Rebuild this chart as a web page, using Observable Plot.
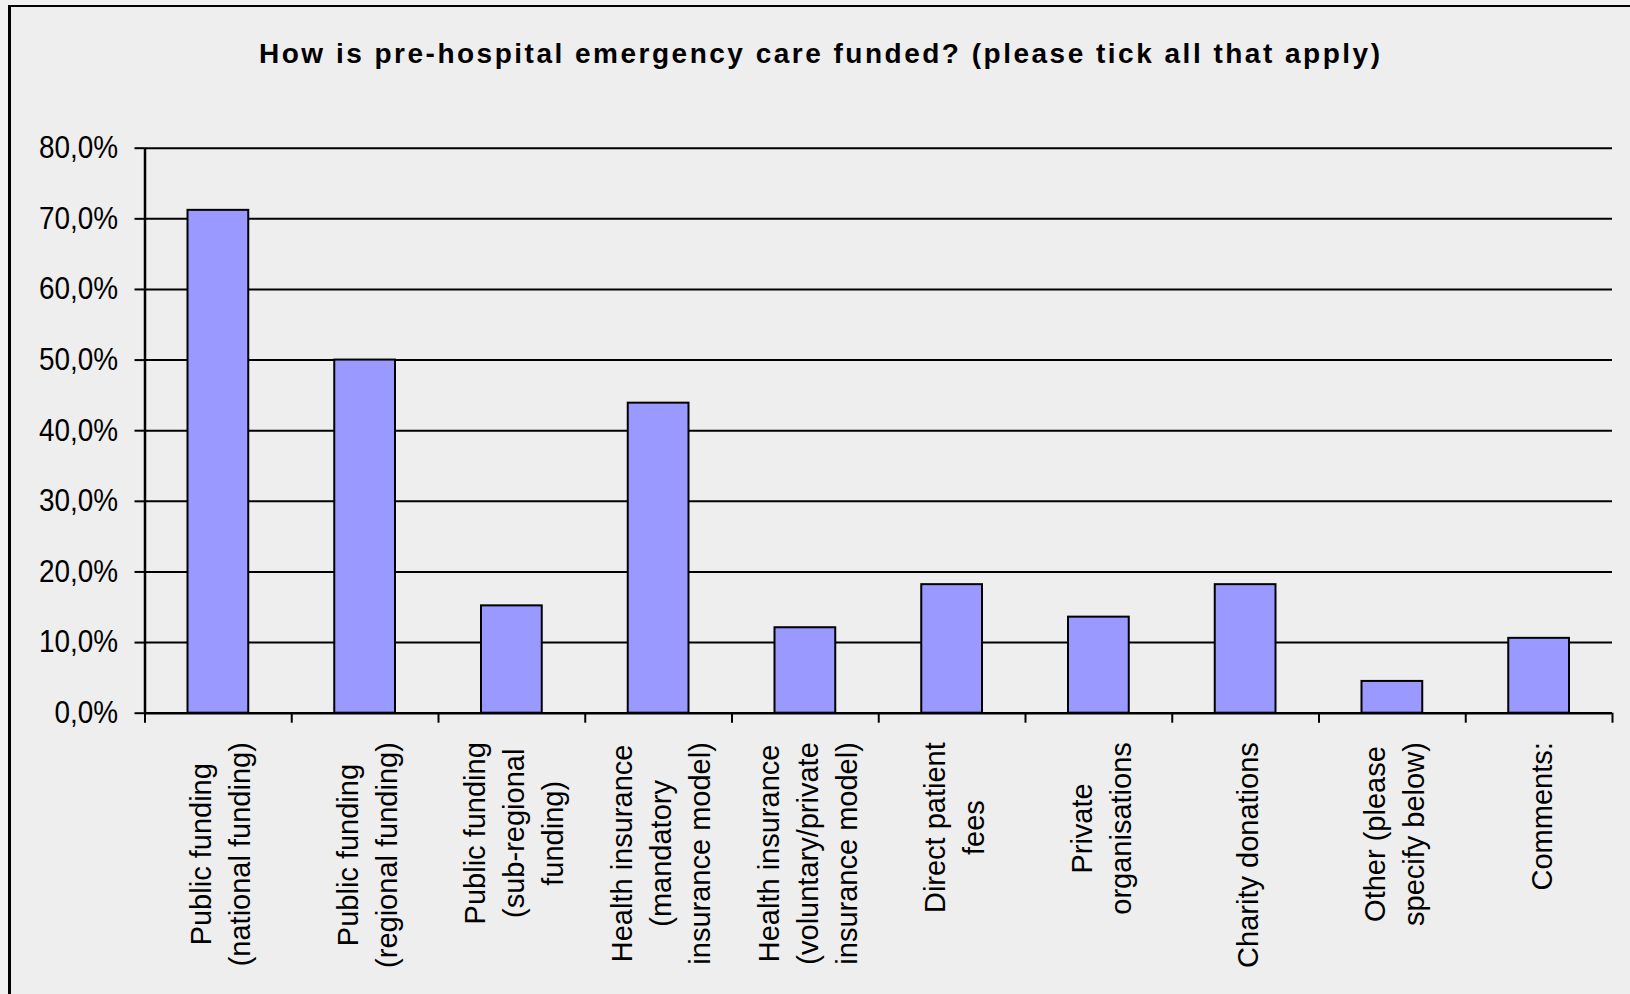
<!DOCTYPE html>
<html><head><meta charset="utf-8">
<script src="https://cdn.jsdelivr.net/npm/d3@7"></script>
<script src="https://cdn.jsdelivr.net/npm/@observablehq/plot@0.6"></script>
<style>
html,body{margin:0;padding:0;background:#f1f1f1;width:1630px;height:994px;overflow:hidden;}
#frame{position:absolute;left:8px;top:5px;width:1700px;height:1100px;border-left:3px solid #000;border-top:2px solid #000;box-sizing:border-box;background:#eeeeee;}
#title{position:absolute;left:259px;top:40px;font:bold 28px "Liberation Sans",Arial,sans-serif;line-height:28px;white-space:nowrap;color:#000;}
#chart{position:absolute;left:0;top:90px;}
</style></head><body>
<div id="frame"></div>
<div id="title"></div>
<div id="chart"></div>
<script>
const titleText = "How is pre-hospital emergency care funded? (please tick all that apply)";
const categories = [
  "Public funding\n(national funding)",
  "Public funding\n(regional funding)",
  "Public funding\n(sub-regional\nfunding)",
  "Health insurance\n(mandatory\ninsurance model)",
  "Health insurance\n(voluntary/private\ninsurance model)",
  "Direct patient\nfees",
  "Private\norganisations",
  "Charity donations",
  "Other (please\nspecify below)",
  "Comments:"
];
const values = [71.2, 50.0, 15.2, 43.9, 12.1, 18.2, 13.6, 18.2, 4.5, 10.6];
const yTicks = [0, 10, 20, 30, 40, 50, 60, 70, 80];

// Title with letter spacing fitted to the reference width
const titleEl = document.getElementById("title");
titleEl.textContent = titleText;
const ctx = document.createElement("canvas").getContext("2d");
ctx.font = 'bold 28px "Liberation Sans"';
const natural = ctx.measureText(titleText).width;
const targetW = 1121;
titleEl.style.letterSpacing = ((targetW - natural) / (titleText.length - 1)) + "px";

const data = categories.map((c, i) => ({i, label: c, value: values[i]}));

const chart = Plot.plot({
  width: 1630,
  height: 904,
  marginLeft: 144.5,
  marginRight: 18,
  marginTop: 57.7,
  marginBottom: 281.3,
  style: {background: "transparent", fontFamily: '"Liberation Sans", Arial, sans-serif', color: "#000", overflow: "visible"},
  x: {type: "linear", domain: [0, categories.length], axis: null, label: null},
  y: {domain: [0, 80], axis: null, label: null},
  marks: [
    Plot.gridY({ticks: yTicks.slice(1), stroke: "#000", strokeOpacity: 1, strokeWidth: 2}),
    Plot.rectY(data, {x1: "i", x2: d => d.i + 1, y: "value", insetLeft: 43, insetRight: 43, fill: "#9999ff", stroke: "#000", strokeWidth: 2}),
    Plot.ruleX([0], {stroke: "#000", strokeWidth: 2.5}),
    Plot.ruleY([0], {stroke: "#000", strokeWidth: 2.5}),
    Plot.axisY({ticks: yTicks, label: null, tickSize: 10, tickPadding: 17, tickFormat: d => d.toFixed(1).replace(".", ",") + "%", fontSize: 31, stroke: "#000", strokeWidth: 2, fill: "#000"}),
    Plot.axisX({ticks: d3.range(0, categories.length + 1), label: null, tickSize: 10, tickFormat: () => "", stroke: "#000", strokeWidth: 2}),
    Plot.text(data, {x: d => d.i + 0.5, y: () => 0, text: "label", rotate: -90, textAnchor: "middle", lineAnchor: "middle", fontSize: 29, lineHeight: 1.34, fill: "#000"})
  ]
});
document.getElementById("chart").appendChild(chart);

// Condense y tick labels horizontally like the reference
d3.select(chart).selectAll('g[aria-label="y-axis tick label"] text').each(function() {
  const t = this.getAttribute("transform") || "";
  this.setAttribute("transform", t + " scale(0.9,1)");
});
// Top-align rotated category labels below the axis (lines centred within each block)
const gap = 29;
d3.select(chart).selectAll('g[aria-label="text"] text').each(function() {
  const w = this.getBBox().width;
  const t = this.getAttribute("transform") || "";
  this.setAttribute("transform", t + ` translate(${-(w / 2 + gap)},0)`);
});
</script>
</body></html>
